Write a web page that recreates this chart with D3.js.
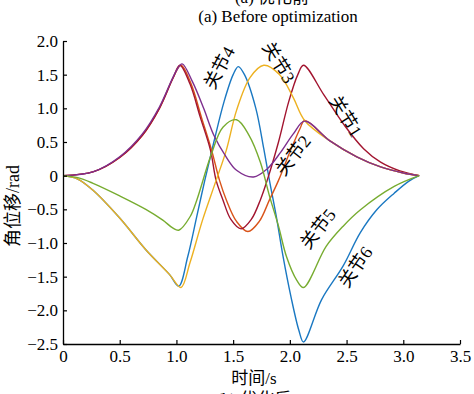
<!DOCTYPE html>
<html>
<head>
<meta charset="utf-8">
<script src="https://cdn.jsdelivr.net/npm/d3@7"></script>
<style>
  body { margin: 0; background: #fff; }
  svg text { font-family: "Liberation Serif", "Times New Roman", "Noto Sans CJK SC", serif; }
</style>
</head>
<body>
<svg id="chart" width="474" height="394"></svg>
<script>
// joint trajectories, [time s, angle rad]
var joint1 = [[0,0],[0.27,0.06],[0.5,0.27],[0.7,0.6],[0.85,1.0],[0.97,1.45],[1.03,1.64],[1.12,1.36],[1.21,0.87],[1.3,0.38],[1.35,-0.07],[1.41,-0.36],[1.48,-0.65],[1.57,-0.79],[1.66,-0.65],[1.74,-0.36],[1.8,-0.07],[1.9,0.5],[1.99,1.1],[2.07,1.5],[2.12,1.64],[2.3,1.2],[2.48,0.75],[2.65,0.4],[2.8,0.2],[2.97,0.07],[3.14,0]]
var joint2 = [[0,0],[0.27,0.06],[0.5,0.27],[0.7,0.6],[0.85,1.0],[0.97,1.45],[1.04,1.64],[1.13,1.36],[1.22,0.87],[1.31,0.38],[1.38,-0.07],[1.44,-0.36],[1.53,-0.68],[1.63,-0.83],[1.73,-0.68],[1.82,-0.36],[1.9,-0.07],[2.0,0.35],[2.09,0.7],[2.13,0.82],[2.35,0.52],[2.59,0.28],[2.8,0.13],[3.0,0.04],[3.14,0]]
var joint3 = [[0,0],[0.13,-0.05],[0.26,-0.21],[0.5,-0.63],[0.73,-1.1],[0.94,-1.47],[1.04,-1.66],[1.12,-1.29],[1.23,-0.66],[1.35,-0.07],[1.44,0.38],[1.53,0.97],[1.65,1.46],[1.77,1.64],[1.91,1.5],[2.03,1.16],[2.13,0.82],[2.35,0.52],[2.59,0.28],[2.8,0.13],[3.0,0.04],[3.14,0]]
var joint4 = [[0,0],[0.27,0.06],[0.5,0.28],[0.7,0.62],[0.85,1.02],[1.0,1.56],[1.05,1.66],[1.14,1.4],[1.24,1.0],[1.33,0.6],[1.43,0.3],[1.53,0.08],[1.68,-0.02],[1.8,0.1],[1.92,0.35],[2.03,0.62],[2.13,0.81],[2.35,0.52],[2.59,0.28],[2.8,0.13],[3.0,0.04],[3.14,0]]
var joint5 = [[0,0],[0.13,-0.03],[0.26,-0.11],[0.5,-0.3],[0.73,-0.5],[0.88,-0.66],[0.97,-0.78],[1.02,-0.81],[1.12,-0.61],[1.18,-0.36],[1.3,0.28],[1.41,0.72],[1.53,0.83],[1.64,0.6],[1.74,0.2],[1.82,-0.3],[1.9,-0.75],[1.97,-1.2],[2.06,-1.55],[2.12,-1.66],[2.32,-1.05],[2.47,-0.75],[2.62,-0.51],[2.92,-0.16],[3.14,0]]
var joint6 = [[0,0],[0.13,-0.05],[0.26,-0.21],[0.5,-0.63],[0.73,-1.1],[0.94,-1.47],[1.02,-1.64],[1.1,-1.2],[1.18,-0.6],[1.25,-0.07],[1.33,0.5],[1.42,1.1],[1.5,1.5],[1.545,1.62],[1.6,1.5],[1.7,1.0],[1.77,0.4],[1.82,-0.07],[1.88,-0.6],[1.94,-1.2],[2.01,-1.8],[2.08,-2.3],[2.12,-2.47],[2.28,-1.84],[2.47,-1.34],[2.62,-0.85],[2.77,-0.5],[2.92,-0.26],[3.05,-0.08],[3.14,0]]

var series = [joint6, joint2, joint1, joint3, joint4, joint5]
var colors = ["#1a78c2", "#D95319", "#A2142F", "#EDB120", "#7E2F8E", "#77AC30"]

var xTicks = [0, 0.5, 1.0, 1.5, 2.0, 2.5, 3.0, 3.5]
var yTicks = [2.0, 1.5, 1.0, 0.5, 0, -0.5, -1.0, -1.5, -2.0, -2.5]

// curve labels: text, anchor (time, angle), rotation
var labelText = ["关节1", "关节2", "关节3", "关节4", "关节5", "关节6"]
var labelAt = [[2.49, 0.88], [2.03, 0.3], [1.9, 1.68], [1.38, 1.6], [2.25, -0.79], [2.58, -1.36]]
var labelRot = [58, -52, 58, -62, -52, -55]

var svg = d3.select("#chart")
var plotL = 63, plotR = 460, plotT = 41, plotB = 344

var x = d3.scaleLinear().domain([0, 3.5]).range([plotL, plotR])
var y = d3.scaleLinear().domain([-2.5, 2.0]).range([plotB, plotT])

var line = d3.line()
  .x(function(d) { return x(d[0]) })
  .y(function(d) { return y(d[1]) })
  .curve(d3.curveCatmullRom.alpha(0.5))

for (var i = 0; i < series.length; i++) {
  svg.append("path")
    .attr("d", line(series[i]))
    .attr("fill", "none")
    .attr("stroke", colors[i])
    .attr("stroke-width", 1.4)
}

// axes, ticks pointing inward
var fmt = function(d) { return d == 0 ? "0" : d3.format(".1f")(d).replace("-", "\u2212") }

var xAxis = d3.axisBottom(x).tickValues(xTicks).tickFormat(fmt).tickSizeInner(-4).tickSizeOuter(0).tickPadding(6)
svg.append("g").attr("transform", "translate(0," + plotB + ")").call(xAxis)

var yAxis = d3.axisLeft(y).tickValues(yTicks).tickFormat(fmt).tickSizeInner(-4).tickSizeOuter(0).tickPadding(5)
svg.append("g").attr("transform", "translate(" + plotL + ",0)").call(yAxis)

svg.selectAll(".domain").attr("stroke", "#000").attr("stroke-width", 1.3)
svg.selectAll(".tick line").attr("stroke", "#000").attr("stroke-width", 1.2)
svg.selectAll(".tick text")
  .attr("fill", "#000")
  .style("font-size", "17px")
  .style("font-family", "'Liberation Serif', 'Times New Roman', serif")

// labels on the curves
for (var i = 0; i < labelText.length; i++) {
  svg.append("text")
    .attr("transform", "translate(" + x(labelAt[i][0]) + "," + y(labelAt[i][1]) + ") rotate(" + labelRot[i] + ")")
    .attr("text-anchor", "middle")
    .attr("dominant-baseline", "central")
    .style("font-size", "18px")
    .text(labelText[i])
}

// titles and axis names
svg.append("text").attr("x", 272).attr("y", 3).attr("text-anchor", "middle")
  .style("font-size", "17px").text("(a) 优化前")
svg.append("text").attr("x", 278).attr("y", 22).attr("text-anchor", "middle")
  .style("font-size", "17px").text("(a) Before optimization")
svg.append("text").attr("x", 254).attr("y", 384).attr("text-anchor", "middle")
  .style("font-size", "17px").text("时间/s")
svg.append("text").attr("x", 254).attr("y", 405).attr("text-anchor", "middle")
  .style("font-size", "17px").text("(b) 优化后")
svg.append("text")
  .attr("transform", "translate(19,206) rotate(-90)")
  .attr("text-anchor", "middle")
  .style("font-size", "18px")
  .text("角位移/rad")
</script>
</body>
</html>
